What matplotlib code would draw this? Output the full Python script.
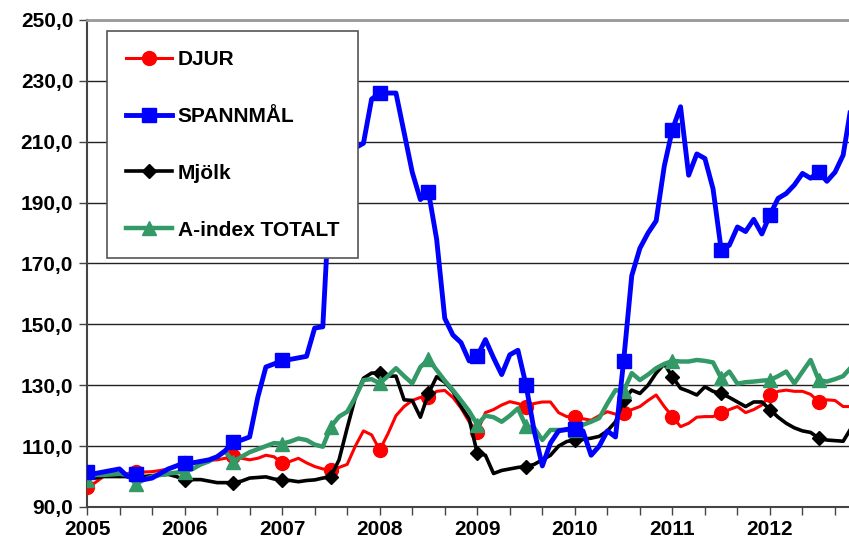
import numpy as np
import matplotlib
matplotlib.use("Agg")
import matplotlib.pyplot as plt
from matplotlib.ticker import FuncFormatter, MultipleLocator

plt.rcParams['font.family'] = ['Liberation Sans', 'DejaVu Sans']
plt.rcParams['font.weight'] = 'bold'

# monthly index values, Jan 2005 .. Nov 2012
spannmal = [101.5, 101, 101.5, 102, 102.5, 100, 101, 99, 99.5, 101, 102.5, 103.5,
            104.5, 104.5, 105, 105.5, 106.5, 108.5, 111.4, 112, 113, 126, 136, 137,
            138.3, 138.5, 139, 139.5, 148.8, 149.2, 200, 205, 207, 208, 209.5, 224,
            226, 226, 226, 213, 200, 191, 193.5, 178, 152, 146.5, 144, 138,
            139.5, 145, 139, 133.5, 140, 141.5, 130, 115, 103.5, 111, 115, 115.5,
            115.5, 115, 107, 110, 115, 113, 138, 166, 175, 180, 184, 202,
            214, 221.5, 199, 206, 204.5, 194.5, 174.5, 176, 182, 180.5, 184.5, 179.7,
            186, 191.4, 193, 195.8, 199.6, 198, 200.2, 197, 200, 205.6, 222]

djur = [96.5, 98, 100, 100.5, 100, 101, 101.6, 101.5, 101.6, 102, 102.5, 103.5,
        104.4, 104.8, 105, 105.3, 105.5, 106, 106.6, 106, 105.5, 106, 107, 106.5,
        104.4, 105, 106, 104.5, 103.3, 102.5, 102.2, 103, 104, 110, 115, 113.7,
        108.7, 114, 120, 123, 125, 126, 126, 128, 128.3, 126, 122.5, 118,
        114.8, 121, 122, 123.5, 124.6, 124, 123, 124, 124.5, 124.5, 121, 119.7,
        119.7, 119, 118.5, 120, 121.3, 120.5, 120.8, 122, 123, 125, 126.8, 123,
        119.7, 116.4, 117.5, 119.5, 119.7, 119.7, 120.8, 122, 123, 121, 122, 123.5,
        126.8, 128, 128.4, 128, 128, 127, 124.6, 125.2, 125, 123, 123]

mjolk = [100.5, 99.5, 100, 100, 100, 100, 99.9, 100, 100.3, 100.5, 100.7, 100,
         98.9, 99, 99, 98.5, 98, 98, 98, 98.5, 99.5, 99.7, 99.9, 99.2,
         98.9, 98.7, 98.3, 98.7, 98.9, 99.5, 100, 105.5, 116, 126, 132.3, 134,
         134, 133, 133, 125.2, 125, 119.5, 127.3, 132.8, 131, 128, 123, 119,
         107.6, 107, 101, 102, 102.5, 103, 103.3, 104, 105.5, 107, 110, 111.5,
         112, 112.2, 112.6, 113.2, 115, 118, 125.2, 128.4, 127.3, 130, 134, 137,
         132.8, 129, 128, 126.8, 129.5, 128, 127.3, 126, 124.5, 123, 124.5, 124.5,
         122, 119.5, 117.5, 116, 115, 114.5, 112.6, 112, 111.8, 111.6, 116]

totalt = [99, 100.5, 100.5, 100.7, 100.9, 100.5, 97.5, 99, 100, 100.5, 101, 101.3,
          101.6, 102.5, 104, 105, 106.5, 108.2, 104.9, 106.5, 108, 109, 110, 111,
          110.8, 111.5, 112.5, 112, 110.5, 109.8, 116.4, 119.7, 121.3, 126, 131.7, 132,
          130.6, 133, 135.6, 133, 130.6, 136, 138.5, 135, 131.5, 128.4, 125, 121.5,
          117, 120, 119.5, 118, 120, 122.4, 116.5, 116, 112, 115.3, 115.3, 115.3,
          115.3, 117, 118, 119.2, 124, 128.4, 128, 134, 131.7, 133.5, 135.6, 137,
          138, 137.8, 137.8, 138.3, 138, 137.5, 132.3, 134.5, 130.5, 131, 131.2, 131.5,
          131.7, 133, 134.5, 130.6, 134.5, 138.3, 131.7, 131.2, 132, 133, 136]

years = list(range(2005, 2013))
y_ticks = [90, 110, 130, 150, 170, 190, 210, 230, 250]
x = 2005 + np.arange(len(djur)) / 12.0

fig = plt.figure(figsize=(8.49, 5.42), dpi=100)
ax = fig.add_axes([0.1025, 0.0646, 0.8975, 0.8985])

ax.plot(x, djur, color="#ff0000", lw=2.2, marker="o", ms=10, markevery=6, label="DJUR", zorder=3)
ax.plot(x, spannmal, color="#0000ff", lw=3.5, marker="s", ms=10, markevery=6, label="SPANNMÅL", zorder=4)
ax.plot(x, mjolk, color="black", lw=2.6, marker="D", ms=7.5, markevery=6, label="Mjölk", zorder=3)
ax.plot(x, totalt, color="#339966", lw=3.2, marker="^", ms=10.5, markevery=6, label="A-index TOTALT", zorder=3)

ax.set_ylim(90, 250)
ax.set_xlim(2005, 2012.81)
ax.set_yticks(y_ticks)
ax.yaxis.set_major_formatter(FuncFormatter(lambda v, p: f"{v:.1f}".replace(".", ",")))
ax.set_xticks(years)
ax.set_xticklabels([str(y) for y in years])
ax.xaxis.set_minor_locator(MultipleLocator(1 / 3))
ax.tick_params(axis="both", direction="out", labelsize=15, width=1, colors="black")
ax.tick_params(axis="x", which="both", length=6, width=1, color="#444444")
ax.tick_params(axis="y", length=6, color="#444444", pad=4)
ax.grid(axis="y", color="#222222", lw=1)
ax.set_axisbelow(True)

ax.spines["right"].set_visible(False)
ax.spines["top"].set_color("#999999")
ax.spines["top"].set_linewidth(2)
ax.spines["left"].set_color("#444444")
ax.spines["left"].set_linewidth(1.5)
ax.spines["bottom"].set_color("#444444")
ax.spines["bottom"].set_linewidth(1.5)

leg = ax.legend(loc="upper left", bbox_to_anchor=(0.026, 0.977), fontsize=15,
                frameon=True, fancybox=False, edgecolor="#555555", framealpha=1,
                labelspacing=1.82, handlelength=2.25, handletextpad=0.25,
                borderpad=0.9, borderaxespad=0)
leg.get_frame().set_linewidth(1.2)
leg.set_zorder(10)

fig.savefig("out.png", dpi=100)
